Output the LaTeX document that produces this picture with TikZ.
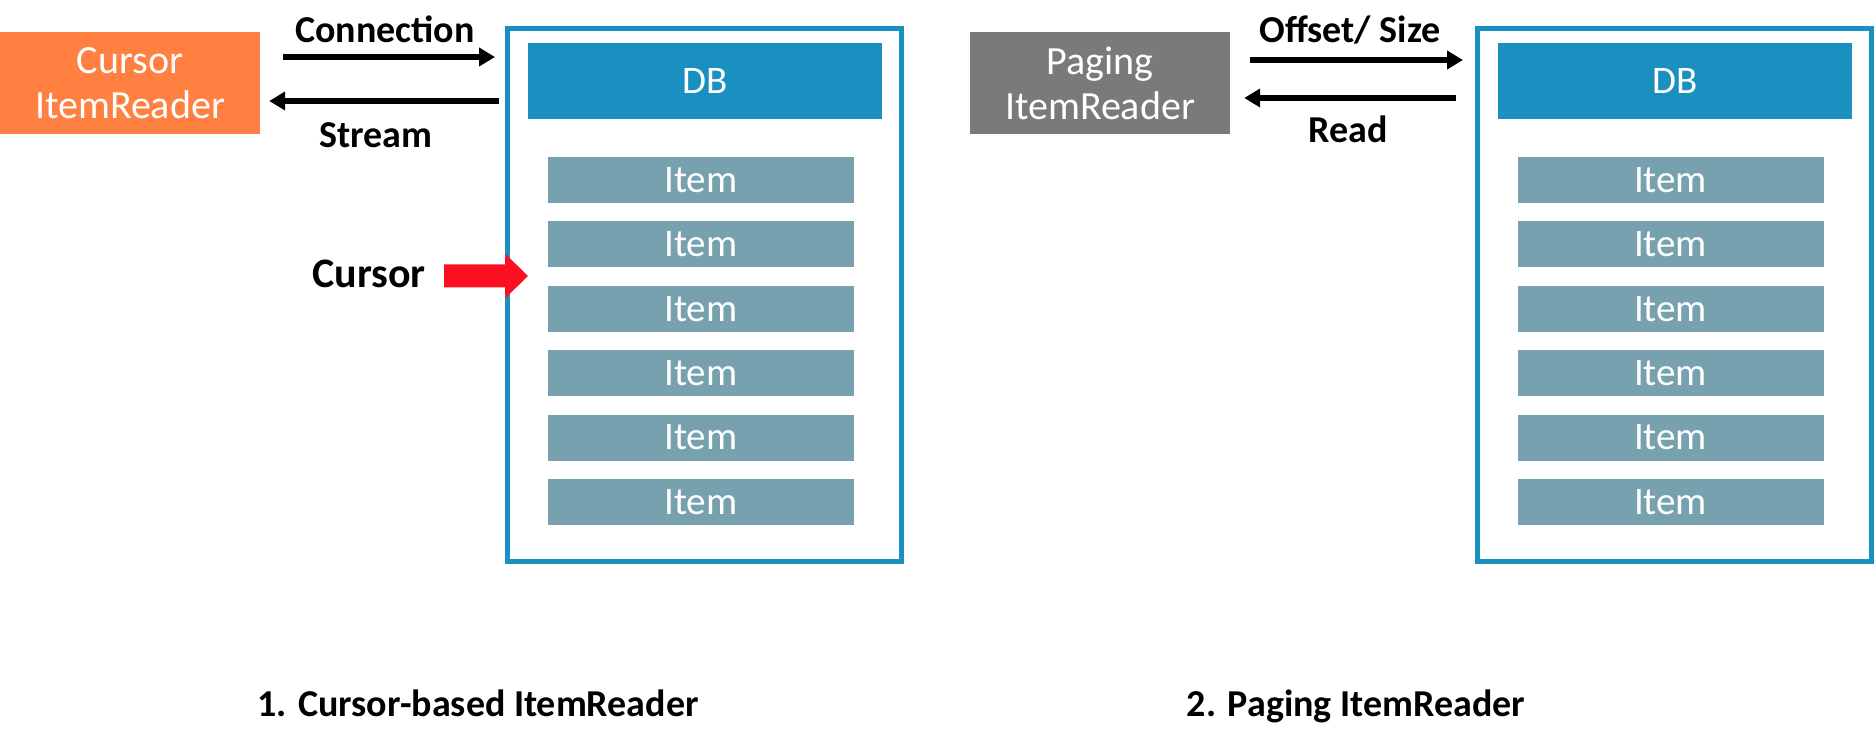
\documentclass[tikz,border=0pt]{standalone}
\usepackage{fontspec}
\setmainfont{Carlito}
\usepackage{tikz}
\usetikzlibrary{arrows.meta}

\definecolor{readerorange}{RGB}{255,128,64}
\definecolor{readergray}{RGB}{122,122,122}
\definecolor{dbblue}{RGB}{25,144,192}
\definecolor{itemgray}{RGB}{120,161,175}
\definecolor{cursorred}{RGB}{250,16,32}

\begin{document}
\begin{tikzpicture}[x=1pt, y=-1pt,
    reader/.style={minimum width=260pt, minimum height=102pt, inner sep=0pt, text=white, align=center, font=\fontsize{40}{45}\selectfont},
    dbbox/.style={draw=dbblue, line width=5pt, minimum width=394pt, minimum height=533pt, inner sep=0pt},
    dbhead/.style={fill=dbblue, minimum width=354pt, minimum height=76pt, inner sep=0pt, text=white, font=\fontsize{39}{39}\selectfont},
    item/.style={fill=itemgray, minimum width=306pt, minimum height=46pt, inner sep=0pt, text=white, font=\fontsize{39}{39}\selectfont},
    lbl/.style={anchor=base, font=\bfseries\fontsize{38}{38}\selectfont},
    flow/.style={line width=6pt, -{Triangle[length=16pt, width=18pt]}}]
\useasboundingbox (0, 0) rectangle (1875, 743);
% cursor picture
    % draw reader and db
    \node[reader, fill=readerorange] (cursorreader) at (130, 83) {Cursor\\ItemReader};
    \node[dbbox] (dbleft) at (704.5, 295) {};
    \node[dbhead] (dbheadleft) at (705, 81) {DB};

    % draw items
    \node[item] (itemleftA) at (701, 180) {Item};
    \node[item] (itemleftB) at (701, 244.4) {Item};
    \node[item] (itemleftC) at (701, 308.8) {Item};
    \node[item] (itemleftD) at (701, 373.2) {Item};
    \node[item] (itemleftE) at (701, 437.6) {Item};
    \node[item] (itemleftF) at (701, 502) {Item};

    % draw connection and stream
    \coordinate (connrow) at ([yshift=26pt]cursorreader.east);
    \coordinate (streamrow) at ([yshift=-18pt]cursorreader.east);
    \draw[flow, shorten <=23pt, shorten >=10pt] (connrow) -- (connrow -| dbleft.west);
    \draw[flow, shorten <=6pt, shorten >=9pt] (streamrow -| dbleft.west) -- (streamrow);
    \node[lbl] (connlabel) at (385, 43) {Connection};
    \node[lbl] (streamlabel) at (376, 148) {Stream};

    % draw cursor arrow
    \coordinate (cursortip) at (528, 276);
    \fill[cursorred] (cursortip) -- ++(-23, -22.5) -- ++(0, 11) -- ++(-61, 0) -- ++(0, 23) -- ++(61, 0) -- ++(0, 11) -- cycle;
    \node[lbl, font=\bfseries\fontsize{42}{42}\selectfont] (cursorlabel) at (369, 288) {Cursor};

    \node[lbl] (cursortitle) at (478, 716) {1. Cursor-based ItemReader};
% paging picture
    % draw reader and db
    \node[reader, fill=readergray] (pagingreader) at (1100, 83) {Paging\\ItemReader};
    \node[dbbox] (dbright) at (1674.5, 295) {};
    \node[dbhead] (dbheadright) at (1675, 81) {DB};

    % draw items
    \node[item] (itemrightA) at (1670.5, 180) {Item};
    \node[item] (itemrightB) at (1670.5, 244.4) {Item};
    \node[item] (itemrightC) at (1670.5, 308.8) {Item};
    \node[item] (itemrightD) at (1670.5, 373.2) {Item};
    \node[item] (itemrightE) at (1670.5, 437.6) {Item};
    \node[item] (itemrightF) at (1670.5, 502) {Item};

    % draw offset and read
    \coordinate (offsetrow) at ([yshift=23pt]pagingreader.east);
    \coordinate (readrow) at ([yshift=-15pt]pagingreader.east);
    \draw[flow, shorten <=20pt, shorten >=12pt] (offsetrow) -- (offsetrow -| dbright.west);
    \draw[flow, shorten <=19pt, shorten >=14pt] (readrow -| dbright.west) -- (readrow);
    \node[lbl] (offsetlabel) at (1350, 43) {Offset/ Size};
    \node[lbl] (readlabel) at (1348, 143) {Read};

    \node[lbl] (pagingtitle) at (1356, 716) {2. Paging ItemReader};
\end{tikzpicture}
\end{document}
